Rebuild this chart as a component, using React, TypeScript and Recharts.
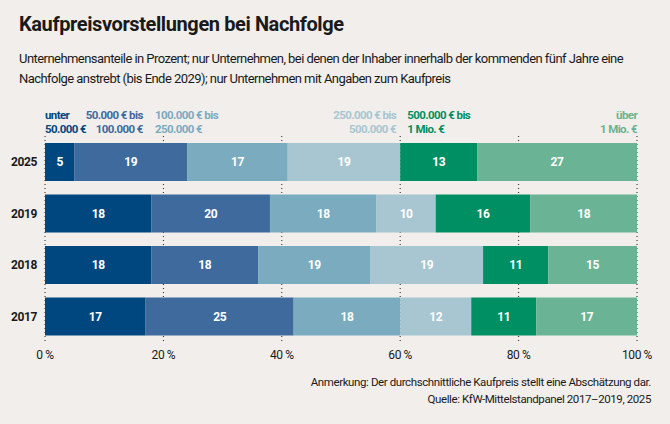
import { BarChart, Bar, XAxis, YAxis, CartesianGrid, LabelList } from 'recharts'

const years = ['2025', '2019', '2018', '2017']
const unter50k = [5, 18, 18, 17]
const bis100k = [19, 20, 18, 25]
const bis250k = [17, 18, 19, 18]
const bis500k = [19, 10, 19, 12]
const bis1m = [13, 16, 11, 11]
const ueber1m = [27, 18, 15, 17]
const xTicks = [0, 20, 40, 60, 80, 100]

const series = [
    { key: 'a', values: unter50k, color: '#00467f', label: ['unter', '50.000 €'], align: 'left' },
    { key: 'b', values: bis100k, color: '#3e6a9e', label: ['50.000 € bis', '100.000 €'], align: 'right' },
    { key: 'c', values: bis250k, color: '#7aabbf', label: ['100.000 € bis', '250.000 €'], align: 'left' },
    { key: 'd', values: bis500k, color: '#a8c6d1', label: ['250.000 € bis', '500.000 €'], align: 'right' },
    { key: 'e', values: bis1m, color: '#008f63', label: ['500.000 € bis', '1 Mio. €'], align: 'left' },
    { key: 'f', values: ueber1m, color: '#6ab394', label: ['über', '1 Mio. €'], align: 'right' },
]

const data = years.map((year, i) => {
    const row: Record<string, string | number> = { year }
    series.forEach((s) => { row[s.key] = s.values[i] })
    return row
})

const font = "'Liberation Sans Narrow', 'Roboto', sans-serif"
const plotLeft = 45
const plotWidth = 592

// legend label x positions in percent (where each label is anchored)
const legendPos = [0, 16.5, 18.6, 59.3, 61.2, 100]

export default function App() {
    return (
        <div style={{ position: 'absolute', left: 0, top: 0, width: 670, height: 424, background: '#f1eeeb', fontFamily: font, color: '#1a1a1a', letterSpacing: -0.4 }}>
            <div style={{ position: 'absolute', left: 19, top: 12, fontSize: 20, fontWeight: 'bold' }}>Kaufpreisvorstellungen bei Nachfolge</div>
            <div style={{ position: 'absolute', left: 19, top: 49, width: 645, fontSize: 13, lineHeight: '20px', letterSpacing: -0.55 }}>
                Unternehmensanteile in Prozent; nur Unternehmen, bei denen der Inhaber innerhalb der kommenden fünf Jahre eine Nachfolge anstrebt (bis Ende 2029); nur Unternehmen mit Angaben zum Kaufpreis
            </div>
            {series.map((s, i) => {
                const x = plotLeft + (legendPos[i] / 100) * plotWidth
                const style: React.CSSProperties = s.align === 'left'
                    ? { left: x }
                    : { right: 670 - x }
                return (
                    <div key={s.key} style={{ position: 'absolute', top: 108, fontSize: 11.5, fontWeight: 'bold', lineHeight: '14px', letterSpacing: -0.6, color: s.color, textAlign: s.align as 'left' | 'right', ...style }}>
                        {s.label[0]}<br />{s.label[1]}
                    </div>
                )
            })}
            <div style={{ position: 'absolute', left: 0, top: 0 }}>
                <BarChart width={670} height={424} data={data} layout='vertical' margin={{ top: 136, right: 33, left: 0, bottom: 52 }} barSize={38}>
                    <CartesianGrid horizontal={false} stroke='#222' strokeDasharray='1 3' />
                    <XAxis type='number' domain={[0, 100]} ticks={xTicks} axisLine={false} tickLine={false} height={30}
                        tickFormatter={(v) => `${v} %`} tick={{ fill: '#1a1a1a', fontSize: 12, fontFamily: font }} />
                    <YAxis type='category' dataKey='year' width={45} axisLine={false} tickLine={false}
                        tick={{ fill: '#1a1a1a', fontSize: 12, fontWeight: 'bold', fontFamily: font }} />
                    {series.map((s) => (
                        <Bar key={s.key} dataKey={s.key} stackId='x' fill={s.color} isAnimationActive={false}>
                            <LabelList dataKey={s.key} position='center' fill='#fff' fontSize={12} fontWeight='bold' fontFamily={font} />
                        </Bar>
                    ))}
                </BarChart>
            </div>
            <div style={{ position: 'absolute', right: 19, top: 374, fontSize: 11.5, lineHeight: '17px', textAlign: 'right', letterSpacing: -0.4 }}>
                Anmerkung: Der durchschnittliche Kaufpreis stellt eine Abschätzung dar.<br />
                Quelle: KfW-Mittelstandpanel 2017–2019, 2025
            </div>
        </div>
    )
}
